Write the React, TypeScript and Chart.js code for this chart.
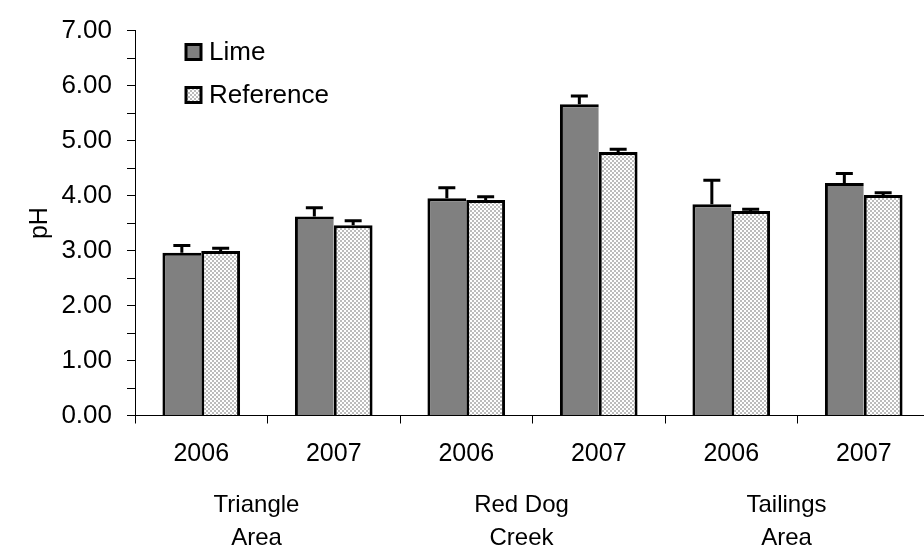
import React, { useEffect, useRef } from "react";
import { Chart, registerables } from "chart.js";

Chart.register(...registerables);

const years: string[] = ["2006", "2007", "2006", "2007", "2006", "2007"];
const groups: string[][] = [["Triangle", "Area"], ["Red Dog", "Creek"], ["Tailings", "Area"]];
const limeValues: number[] = [2.96, 3.62, 3.95, 5.66, 3.84, 4.23];
const limeErrors: number[] = [0.13, 0.16, 0.19, 0.15, 0.44, 0.17];
const referenceValues: number[] = [2.99, 3.46, 3.92, 4.79, 3.72, 4.01];
const referenceErrors: number[] = [0.05, 0.08, 0.06, 0.05, 0.03, 0.04];
const seriesNames: string[] = ["Lime", "Reference"];
const yMin = 0;
const yMax = 7;
const yStep = 0.5;

const FONT_FAMILY = '"Liberation Sans", Arial, sans-serif';

function makePattern(): CanvasPattern | string {
  const c = document.createElement("canvas");
  c.width = 4;
  c.height = 4;
  const g = c.getContext("2d");
  if (!g) return "#e0e0e0";
  g.fillStyle = "#ffffff";
  g.fillRect(0, 0, 4, 4);
  g.fillStyle = "#bcbcbc";
  g.fillRect(0, 0, 2, 2);
  g.fillRect(2, 2, 2, 2);
  const p = g.createPattern(c, "repeat");
  return p || "#e0e0e0";
}

export default function App() {
  const ref = useRef<HTMLCanvasElement | null>(null);

  useEffect(() => {
    if (!ref.current) return;
    const pattern = makePattern();
    const errors = [limeErrors, referenceErrors];
    const values = [limeValues, referenceValues];

    const errorBarPlugin = {
      id: "errorBars",
      afterDatasetsDraw(chart: any) {
        const ctx = chart.ctx;
        const yScale = chart.scales.y;
        ctx.save();
        ctx.strokeStyle = "#000";
        ctx.lineWidth = 3;
        chart.data.datasets.forEach((_ds: any, di: number) => {
          const meta = chart.getDatasetMeta(di);
          meta.data.forEach((bar: any, i: number) => {
            const x = bar.x;
            const y0 = yScale.getPixelForValue(values[di][i]);
            const y1 = yScale.getPixelForValue(values[di][i] + errors[di][i]);
            ctx.beginPath();
            ctx.moveTo(x, y0);
            ctx.lineTo(x, y1);
            ctx.moveTo(x - 8.5, y1);
            ctx.lineTo(x + 8.5, y1);
            ctx.stroke();
          });
        });
        ctx.restore();
      },
    };

    const legendPlugin = {
      id: "customLegend",
      afterDraw(chart: any) {
        const ctx = chart.ctx;
        ctx.save();
        const fills = [chart.data.datasets[0].backgroundColor, chart.data.datasets[1].backgroundColor];
        const centers = [52, 95];
        ctx.font = `26px ${FONT_FAMILY}`;
        ctx.textBaseline = "middle";
        ctx.textAlign = "left";
        seriesNames.forEach((name, i) => {
          const cy = centers[i];
          ctx.fillStyle = fills[i];
          ctx.fillRect(186, cy - 7.5, 15, 15);
          ctx.strokeStyle = "#000";
          ctx.lineWidth = 3;
          ctx.strokeRect(186, cy - 7.5, 15, 15);
          ctx.fillStyle = "#000";
          ctx.fillText(name, 209, cy + 1);
        });
        ctx.restore();
      },
    };

    const yFont = { family: FONT_FAMILY, size: 26 };
    const xFont = { family: FONT_FAMILY, size: 25 };
    const groupFont = { family: FONT_FAMILY, size: 24, lineHeight: 1.38 };

    const chart = new Chart(ref.current, {
      type: "bar",
      data: {
        labels: years,
        datasets: [
          {
            label: seriesNames[0],
            data: limeValues,
            backgroundColor: "#808080",
            borderColor: "#000",
            borderWidth: { left: 3, top: 3, right: 0, bottom: 0 },
            borderSkipped: false,
            categoryPercentage: 0.586,
            barPercentage: 1,
          },
          {
            label: seriesNames[1],
            data: referenceValues,
            backgroundColor: pattern as any,
            borderColor: "#000",
            borderWidth: { left: 3, top: 3, right: 3, bottom: 0 },
            borderSkipped: false,
            categoryPercentage: 0.586,
            barPercentage: 1,
          },
        ],
      },
      options: {
        responsive: false,
        animation: false,
        events: [],
        layout: { padding: { top: 29, left: 0, right: 0, bottom: 0 } },
        plugins: {
          legend: { display: false },
          tooltip: { enabled: false },
          title: { display: false },
        },
        scales: {
          x: {
            type: "category",
            offset: true,
            grid: { offset: true, drawOnChartArea: false, tickLength: 8, color: "#000", lineWidth: 1 },
            border: { color: "#000", width: 1 },
            ticks: { font: xFont, color: "#000", padding: 16, maxRotation: 0, autoSkip: false },
            afterFit: (s: any) => {
              s.height = 60;
            },
          },
          x2: {
            type: "category",
            labels: groups as any,
            position: "bottom",
            offset: true,
            grid: { display: false, drawTicks: false },
            border: { display: false },
            ticks: {
              font: groupFont,
              color: "#000",
              padding: 13,
              labelOffset: -11,
              maxRotation: 0,
              autoSkip: false,
            },
            afterFit: (s: any) => {
              s.height = 72.5;
            },
          },
          y: {
            min: yMin,
            max: yMax,
            ticks: {
              stepSize: yStep,
              autoSkip: false,
              font: yFont,
              color: "#000",
              padding: 15,
              callback: (v: any) => (Number.isInteger(Number(v)) ? Number(v).toFixed(2) : ""),
            },
            grid: { drawOnChartArea: false, tickLength: 8, color: "#000", lineWidth: 1 },
            border: { color: "#000", width: 1 },
            title: {
              display: true,
              text: "pH",
              font: { family: FONT_FAMILY, size: 25 },
              color: "#000",
              padding: { top: 25, bottom: 0 },
            },
            afterFit: (s: any) => {
              s.width = 135;
            },
          },
        },
      } as any,
      plugins: [errorBarPlugin, legendPlugin],
    });

    return () => chart.destroy();
  }, []);

  return (
    <div style={{ position: "fixed", left: 0, top: 0, width: 924, height: 548, overflow: "hidden", background: "#fff" }}>
      <canvas ref={ref} width={930} height={548} style={{ display: "block" }} />
    </div>
  );
}
